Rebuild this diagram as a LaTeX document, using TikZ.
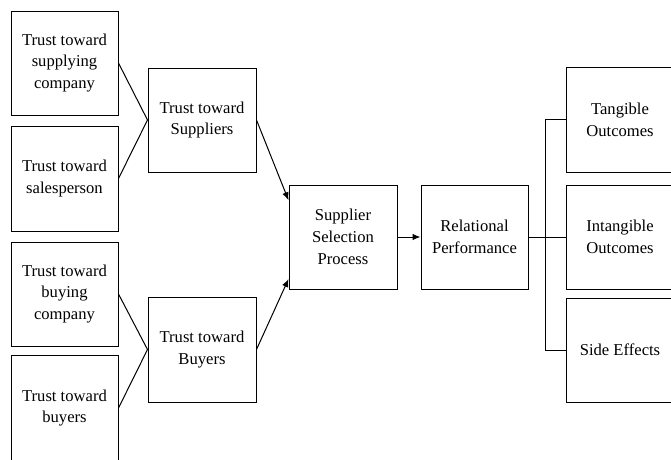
\documentclass[tikz,border=0pt]{standalone}
\usepackage{fontspec}
\setmainfont{Liberation Serif}
\usetikzlibrary{arrows.meta,calc}

\begin{document}
\begin{tikzpicture}[x=1pt,y=-1pt,line cap=round,
  box/.style={draw,line width=1pt,align=center,inner sep=0pt,minimum width=107pt,minimum height=104pt,font=\fontsize{16.6}{21.7}\selectfont},
  link/.style={line width=1pt},
  arr/.style={line width=1pt,-{Latex[length=8pt,width=6.5pt]}}]
  \useasboundingbox (0,0) rectangle (671,459);
  \node[box] (supplyco) at (64.5,63) {Trust toward\\supplying\\company};
  \node[box,minimum height=105pt] (salesp) at (64.5,178.5) {Trust toward\\salesperson};
  \node[box] (buyco) at (64.5,294) {Trust toward\\buying\\company};
  \node[box,minimum height=106pt] (buyers) at (64.5,408) {Trust toward\\buyers};
  \node[box,minimum width=108pt] (suppl) at (202,120) {Trust toward\\Suppliers};
  \node[box,minimum width=108pt,minimum height=105pt] (buyer) at (202,349.5) {Trust toward\\Buyers};
  \node[box,minimum width=108pt] (select) at (343,237) {Supplier\\Selection\\Process};
  \node[box] (relperf) at (474.5,237) {Relational\\Performance};
  \node[box,minimum height=105pt] (tang) at (620,119.5) {Tangible\\Outcomes};
  \node[box] (intang) at (620,237) {Intangible\\Outcomes};
  \node[box] (side) at (620,350) {Side Effects};
  \draw[link] (supplyco.east) -- (suppl.west); \draw[link] (salesp.east) -- (suppl.west);
  \draw[link] (buyco.east) -- (buyer.west); \draw[link] (buyers.east) -- (buyer.west);
  \draw[arr] (suppl.east) -- ($(select.north west)!0.15!(select.south west)$);
  \draw[arr] (buyer.east) -- ($(select.north west)!0.9!(select.south west)$);
  \draw[arr] (select.east) -- (relperf.west);
  \draw[link] (relperf.east) -- (intang.west);
  \draw[link] (tang.west) -- ++(-21,0) |- (side.west);
\end{tikzpicture}
\end{document}
